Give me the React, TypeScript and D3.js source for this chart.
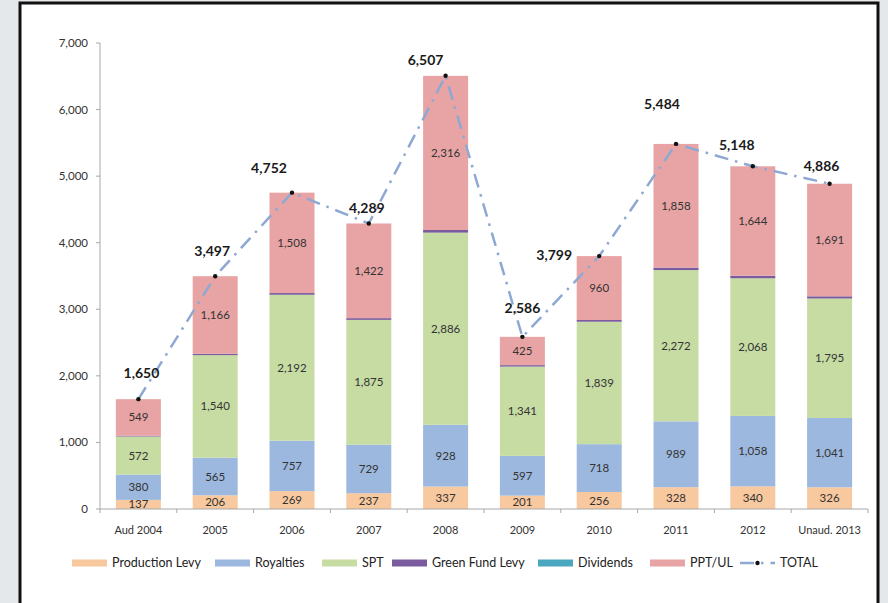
import React from 'react';
import * as d3 from 'd3';

const years = ['Aud 2004', '2005', '2006', '2007', '2008', '2009', '2010', '2011', '2012', 'Unaud. 2013'];
const productionLevy = [137, 206, 269, 237, 337, 201, 256, 328, 340, 326];
const royalties = [380, 565, 757, 729, 928, 597, 718, 989, 1058, 1041];
const spt = [572, 1540, 2192, 1875, 2886, 1341, 1839, 2272, 2068, 1795];
const greenFundLevy = [12, 20, 26, 26, 40, 22, 26, 37, 38, 33];
const dividends = [0, 0, 0, 0, 0, 0, 0, 0, 0, 0];
const pptUl = [549, 1166, 1508, 1422, 2316, 425, 960, 1858, 1644, 1691];
const totals = [1650, 3497, 4752, 4289, 6507, 2586, 3799, 5484, 5148, 4886];
const yTicks = [0, 1000, 2000, 3000, 4000, 5000, 6000, 7000];

const series = [
  { name: 'Production Levy', values: productionLevy, color: '#f8c89e', label: true },
  { name: 'Royalties', values: royalties, color: '#9db8de', label: true },
  { name: 'SPT', values: spt, color: '#c6dca3', label: true },
  { name: 'Green Fund Levy', values: greenFundLevy, color: '#7a5c9e', label: false },
  { name: 'Dividends', values: dividends, color: '#4aa7bf', label: false },
  { name: 'PPT/UL', values: pptUl, color: '#e8a4a4', label: true },
];

// где подписи итогов стоят относительно точки (как в Excel)
const totalLabelShift: [number, number][] = [
  [3, -21], [-3, -20], [-23, -20], [-2, -10], [-20, -11],
  [0, -24], [-45, 4], [-14, -35], [-16, -16], [-8, -13],
];

const font = 'Lato, "Open Sans", sans-serif';
const fmt = d3.format(',');

export default function App() {
  const width = 888;
  const height = 603;

  const x = d3.scaleBand<string>()
    .domain(years)
    .range([100, 868])
    .paddingInner(0.414)
    .paddingOuter(0.207);

  const y = d3.scaleLinear().domain([0, 7000]).range([509, 43]);

  // накопленные суммы для стеков
  const stackData = years.map((yr, i) => {
    const row: any = { year: yr };
    series.forEach(s => { row[s.name] = s.values[i]; });
    return row;
  });
  const stacked = d3.stack<any>().keys(series.map(s => s.name))(stackData);

  const cx = (i: number) => (x(years[i]) || 0) + x.bandwidth() / 2;

  const line = d3.line<number>()
    .x((_, i) => cx(i))
    .y(d => y(d));

  const step = x.step();
  const boundaries = d3.range(years.length + 1).map(i => 100 + i * step);

  const legendItems = [
    { name: 'Production Levy', x: 72 },
    { name: 'Royalties', x: 215 },
    { name: 'SPT', x: 322 },
    { name: 'Green Fund Levy', x: 392 },
    { name: 'Dividends', x: 538 },
    { name: 'PPT/UL', x: 650 },
  ];

  return (
    <svg width={width} height={height} style={{ position: 'absolute', left: 0, top: 0, display: 'block' }}>
      <rect x={0} y={0} width={width} height={height} fill="#e5e8eb" />
      <rect x={20} y={3} width={858} height={640} fill="#ffffff" stroke="#111" strokeWidth={3} />

      {/* ось Y */}
      <line x1={100} x2={100} y1={y(7000)} y2={y(0)} stroke="#a8a8a8" strokeWidth={1} />
      {yTicks.map(t => (
        <g key={t}>
          <line x1={96} x2={100} y1={y(t)} y2={y(t)} stroke="#a8a8a8" />
          <text x={88} y={y(t)} dy="0.35em" textAnchor="end" fontFamily={font} fontSize={11.5} fill="#333">
            {fmt(t)}
          </text>
        </g>
      ))}

      {/* бары */}
      {stacked.map((layer, si) => (
        <g key={layer.key}>
          {layer.map((d, i) => (
            <rect
              key={i}
              x={x(years[i])}
              width={x.bandwidth()}
              y={y(d[1])}
              height={Math.max(0, y(d[0]) - y(d[1]))}
              fill={series[si].color}
            />
          ))}
        </g>
      ))}

      {/* подписи сегментов */}
      {stacked.map((layer, si) => series[si].label ? (
        <g key={'l' + layer.key}>
          {layer.map((d, i) => (
            <text
              key={i}
              x={cx(i)}
              y={(y(d[0]) + y(d[1])) / 2}
              dy="0.35em"
              textAnchor="middle"
              fontFamily={font}
              fontSize={11.5}
              fill="#333"
            >
              {fmt(series[si].values[i])}
            </text>
          ))}
        </g>
      ) : null)}

      {/* ось X */}
      <line x1={100} x2={868} y1={y(0)} y2={y(0)} stroke="#a8a8a8" />
      {boundaries.map((b, i) => (
        <line key={i} x1={b} x2={b} y1={y(0)} y2={y(0) + 4} stroke="#a8a8a8" />
      ))}
      {years.map((yr, i) => (
        <text key={yr} x={cx(i)} y={534} textAnchor="middle" fontFamily={font} fontSize={11} fill="#333">
          {yr}
        </text>
      ))}

      {/* линия TOTAL */}
      <path
        d={line(totals) || ''}
        fill="none"
        stroke="#8ea8d4"
        strokeWidth={2.5}
        strokeDasharray="14,7,2.5,7"
      />
      {totals.map((t, i) => (
        <circle key={i} cx={cx(i)} cy={y(t)} r={2.2} fill="#111" />
      ))}
      {totals.map((t, i) => (
        <text
          key={'t' + i}
          x={cx(i) + totalLabelShift[i][0]}
          y={y(t) + totalLabelShift[i][1]}
          textAnchor="middle"
          fontFamily={font}
          fontWeight="bold"
          fontSize={14}
          fill="#1a1a1a"
        >
          {fmt(t)}
        </text>
      ))}

      {/* легенда */}
      {legendItems.map(item => {
        const s = series.find(ss => ss.name === item.name)!;
        return (
          <g key={item.name} transform={`translate(${item.x},563)`}>
            <rect x={0} y={-3.5} width={35} height={7} fill={s.color} />
            <text x={40} y={0} dy="0.35em" fontFamily={font} fontSize={12.5} fill="#222">{item.name}</text>
          </g>
        );
      })}
      <g transform="translate(740,563)">
        <line x1={0} x2={35} y1={0} y2={0} stroke="#8ea8d4" strokeWidth={2.5} strokeDasharray="14,7,2.5,7" />
        <circle cx={17.5} cy={0} r={2.2} fill="#111" />
        <text x={40} y={0} dy="0.35em" fontFamily={font} fontSize={12.5} fill="#222">TOTAL</text>
      </g>
    </svg>
  );
}
